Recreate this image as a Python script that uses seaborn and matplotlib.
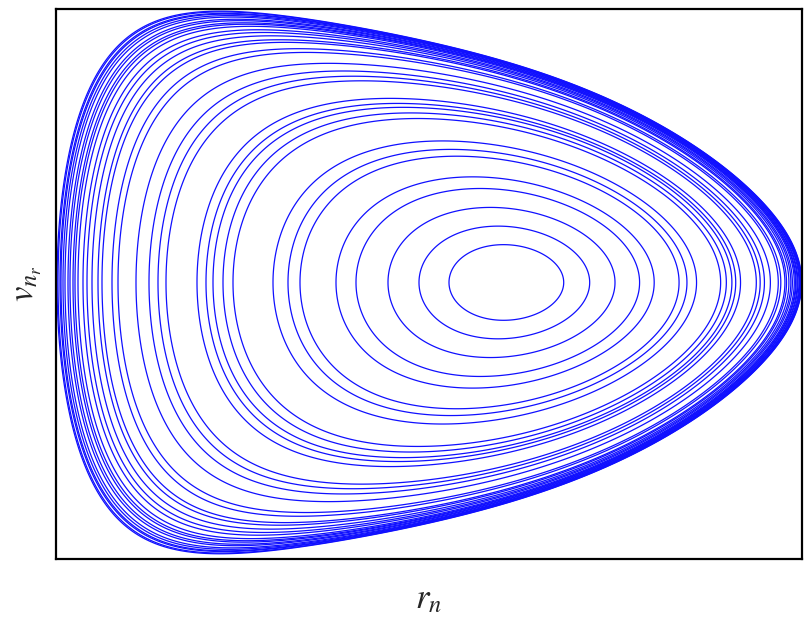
import numpy as np
import matplotlib
matplotlib.use("Agg")
import matplotlib.pyplot as plt
import seaborn as sns

# left turning point of every orbit on the r axis (inner -> outer)
r_left = [-0.59, -0.89, -1.20, -1.52, -1.72, -2.08, -2.20, -2.35, -2.75, -2.85,
          -2.95, -3.02, -3.11, -3.42, -3.50, -3.59, -3.72, -3.90, -3.96, -4.06,
          -4.10, -4.16, -4.21, -4.25, -4.30, -4.33, -4.35, -4.38, -4.40, -4.43,
          -4.45, -4.47, -4.48, -4.50, -4.51]

# model used to trace the orbits: H = v^2 / (2 w(r)) + V(r)
pot_cubic = 0.05
w_coef = [0.42, -0.27, 0.02, -0.0095]

r_lim = (-4.52, 2.94)
v_lim = (-2.72, 2.69)

line_color = "#1010ff"


def potential(r):
    return r ** 2 / 2 + pot_cubic * r ** 3


def weight(r):
    return w_coef[0] * np.exp(w_coef[1] * r + w_coef[2] * r ** 2 + w_coef[3] * r ** 3)


sns.set_style("white")
plt.rcParams["mathtext.fontset"] = "stix"

fig = plt.figure(figsize=(8.05, 6.19), dpi=100)
ax = fig.add_axes([56 / 805, 1 - 559 / 619, (802 - 56) / 805, (559 - 9) / 619])

r = np.linspace(r_lim[0], r_lim[1], 2000)
v = np.linspace(v_lim[0], v_lim[1], 1600)
R, Vv = np.meshgrid(r, v)
H = Vv ** 2 / (2 * weight(R)) + potential(R)

levels = np.unique(potential(np.array(r_left)))
ax.contour(R, Vv, H, levels=levels, colors=line_color, linewidths=0.9)

ax.set_xlim(*r_lim)
ax.set_ylim(*v_lim)
ax.set_xticks([])
ax.set_yticks([])
for sp in ax.spines.values():
    sp.set_visible(True)
    sp.set_color("black")
    sp.set_linewidth(1.6)

ax.set_xlabel(r"$r_n$", fontsize=25, labelpad=16)
ax.set_ylabel(r"$v_{n_r}$", fontsize=25, labelpad=9)

fig.savefig("out.png", dpi=100, facecolor="white")
